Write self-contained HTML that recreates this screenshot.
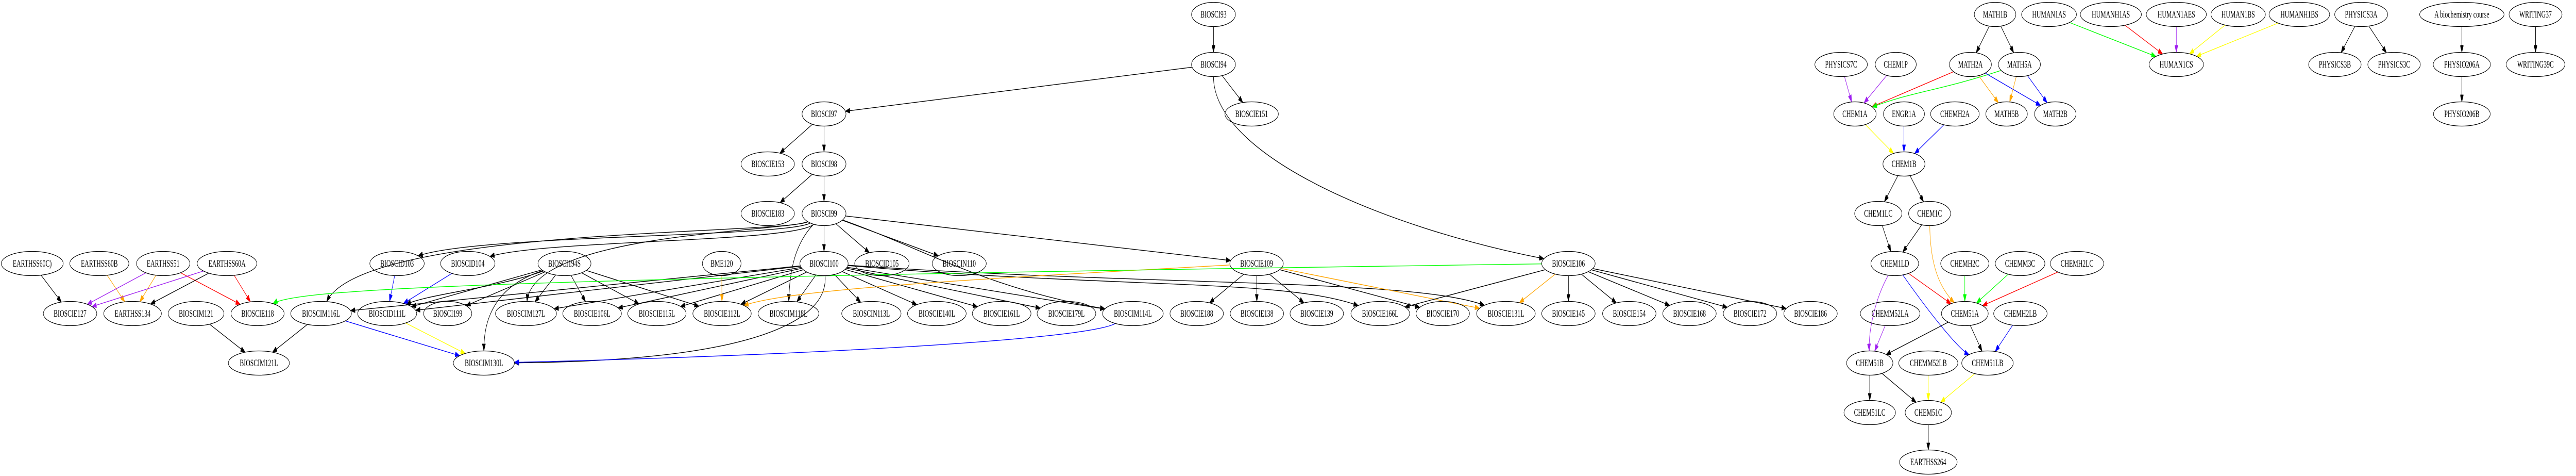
<!DOCTYPE html>
<html><head><meta charset="utf-8">
<style>
html,body{margin:0;padding:0;background:#fff;overflow:hidden}
svg{display:block;position:absolute;left:0;top:0;width:100vw;height:100vh}
text{font-family:"Liberation Serif",serif;font-size:18.5px;fill:#000}
</style></head>
<body>
<svg id="g" viewBox="0 0 7831 923" preserveAspectRatio="none" xmlns="http://www.w3.org/2000/svg">
<defs></defs>
<g id="edges"></g>
<g id="nodes"></g>
</svg>
<script>
var R=[28,125,221,318,414,511,608,704,800,896];
var N={};
var rows={
0:[["BIOSCI93",3689],["MATH1B",6065],["HUMAN1AS",6229],["HUMANH1AS",6417],["HUMAN1AES",6616],["HUMAN1BS",6804],["HUMANH1BS",6990],["PHYSICS3A",7178],["A biochemistry course",7484],["WRITING37",7708]],
1:[["BIOSCI94",3689],["PHYSICS7C",5597],["CHEM1P",5763],["MATH2A",5990],["MATH5A",6139],["HUMAN1CS",6616],["PHYSICS3B",7098],["PHYSICS3C",7278],["PHYSIO206A",7484],["WRITING39C",7708]],
2:[["BIOSCI97",2505],["BIOSCIE151",3805],["CHEM1A",5639],["ENGR1A",5788],["CHEMH2A",5943],["MATH5B",6100],["MATH2B",6248],["PHYSIO206B",7484]],
3:[["BIOSCIE153",2334],["BIOSCI98",2505],["CHEM1B",5788]],
4:[["BIOSCIE183",2334],["BIOSCI99",2505],["CHEM1LC",5710],["CHEM1C",5866]],
5:[["EARTHSS60C)",98],["EARTHSS60B",302],["EARTHSS51",496],["EARTHSS60A",690],["BIOSCID103",1207],["BIOSCID104",1422],["BIOSCI194S",1716],["BME120",2194],["BIOSCI100",2505],["BIOSCID105",2681],["BIOSCIN110",2916],["BIOSCIE109",3820],["BIOSCIE106",4768],["CHEM1LD",5760],["CHEMH2C",5973],["CHEMM3C",6141],["CHEMH2LC",6314]],
6:[["BIOSCIE127",213],["EARTHSS134",403],["BIOSCIM121",596],["BIOSCIE118",783],["BIOSCIM116L",976],["BIOSCID111L",1177],["BIOSCI199",1361],["BIOSCIM127L",1599],["BIOSCIE106L",1800],["BIOSCIE115L",1997],["BIOSCIE112L",2195],["BIOSCIM118L",2397],["BIOSCIN113L",2649],["BIOSCIE140L",2848],["BIOSCIE161L",3045],["BIOSCIE179L",3242],["BIOSCIM114L",3444],["BIOSCIE188",3638],["BIOSCIE138",3821],["BIOSCIE139",4003],["BIOSCIE166L",4196],["BIOSCIE170",4386],["BIOSCIE131L",4578],["BIOSCIE145",4768],["BIOSCIE154",4953],["BIOSCIE168",5136],["BIOSCIE172",5320],["BIOSCIE186",5504],["CHEMM52LA",5746],["CHEM51A",5973],["CHEMH2LB",6142]],
7:[["BIOSCIM121L",787],["BIOSCIM130L",1471],["CHEM51B",5684],["CHEMM52LB",5862],["CHEM51LB",6042]],
8:[["CHEM51LC",5684],["CHEM51C",5862]],
9:[["EARTHSS264",5862]]
};
var SVGNS="http://www.w3.org/2000/svg";
var svg=document.getElementById("g"),ng=document.getElementById("nodes"),eg=document.getElementById("edges"),defs=svg.querySelector("defs");
function el(t,a,p){var e=document.createElementNS(SVGNS,t);for(var k in a)e.setAttribute(k,a[k]);(p||svg).appendChild(e);return e;}
for(var r in rows){rows[r].forEach(function(n){
  var y=R[r],x=n[1];
  var t=el("text",{x:x,y:y+6,"text-anchor":"middle"},ng);t.textContent=n[0];
  var w=0;try{w=t.getComputedTextLength();}catch(e){}
  if(!w)w=n[0].length*11;
  var rx=Math.max(48,(w*1.41+22)/2),ry=23.5;
  el("ellipse",{cx:x,cy:y,rx:rx,ry:ry,fill:"none",stroke:"#000","stroke-width":1.3},ng);
  N[n[0]]={x:x,y:y,rx:rx,ry:ry};
});}
var cols={k:"#000",r:"#ff0000",g:"#00ff00",b:"#0000ff",y:"#ffff00",o:"#ffa500",p:"#a020f0"};
for(var c in cols){var m=el("marker",{id:"m"+c,markerWidth:14,markerHeight:10,refX:14,refY:5,orient:"auto",markerUnits:"userSpaceOnUse"},defs);
 el("path",{d:"M0,0 L14,5 L0,10 z",fill:cols[c],stroke:cols[c]},m);}
function clip(n,dx,dy){var l=Math.sqrt((dx*dx)/(n.rx*n.rx)+(dy*dy)/(n.ry*n.ry));return [n.x+dx/l,n.y+dy/l];}
function E(a,b,c,cp){
  var A=N[a],B=N[b];c=c||"k";if(!A||!B)return;
  var d,p0,p3;
  if(cp){
    p0=clip(A,cp[0]-A.x,cp[1]-A.y);
    var last=cp.length>=4?[cp[cp.length-2],cp[cp.length-1]]:[cp[0],cp[1]];
    p3=clip(B,last[0]-B.x,last[1]-B.y);
    if(cp.length>=4) d="M"+p0+" C"+cp[0]+","+cp[1]+" "+cp[2]+","+cp[3]+" "+p3;
    else d="M"+p0+" Q"+cp[0]+","+cp[1]+" "+p3;
  } else {
    p0=clip(A,B.x-A.x,B.y-A.y);p3=clip(B,A.x-B.x,A.y-B.y);
    d="M"+p0+" L"+p3;
  }
  el("path",{d:d,fill:"none",stroke:cols[c],"stroke-width":1.4,"marker-end":"url(#m"+c+")"},eg);
}
E("BIOSCI93","BIOSCI94");E("BIOSCI94","BIOSCI97");E("BIOSCI94","BIOSCIE151");
E("BIOSCI94","BIOSCIE106","k",[3689,300,4200,440]);
E("BIOSCI97","BIOSCIE153");E("BIOSCI97","BIOSCI98");
E("BIOSCI98","BIOSCIE183");E("BIOSCI98","BIOSCI99");
E("BIOSCI99","BIOSCI100");E("BIOSCI99","BIOSCID105");E("BIOSCI99","BIOSCIN110");E("BIOSCI99","BIOSCIE109");
E("BIOSCI99","BIOSCIM118L","k",[2420,470,2400,520]);
E("BIOSCI99","BIOSCIM114L","k",[2800,480,3000,560]);
E("BIOSCI99","BIOSCIM116L","k",[2380,455,1100,440]);
E("BIOSCI99","BIOSCID103","k",[2400,460,1450,455]);
E("BIOSCI99","BIOSCID104","k",[2420,470,1650,465]);
E("BIOSCI99","BIOSCIM127L","k",[2390,450,1620,450]);
["BIOSCIM116L","BIOSCID111L","BIOSCIM127L","BIOSCIE106L","BIOSCIE115L","BIOSCIE112L","BIOSCIM118L","BIOSCIN113L","BIOSCIE140L","BIOSCIE161L","BIOSCIE179L","BIOSCIM114L"].forEach(function(t){E("BIOSCI100",t);});
E("BIOSCI100","BIOSCIE166L","k",[3400,560,3900,540]);
E("BIOSCI100","BIOSCIE131L","k",[3500,555,4300,540]);
E("BIOSCI100","BIOSCIM130L","k",[2520,620,2300,700]);
["BIOSCID111L","BIOSCI199","BIOSCIM127L","BIOSCIE106L","BIOSCIE115L","BIOSCIE112L"].forEach(function(t){E("BIOSCI194S",t);});
E("BIOSCI194S","BIOSCID111L","k",[1500,560,1300,570]);
E("BIOSCI194S","BIOSCIM130L","k",[1480,560,1471,640]);
E("BME120","BIOSCIE112L","o");
E("BIOSCID103","BIOSCID111L","b");E("BIOSCID104","BIOSCID111L","b");
E("BIOSCID111L","BIOSCIM130L","y");E("BIOSCIM116L","BIOSCIM130L","b");
E("BIOSCIM114L","BIOSCIM130L","b",[3300,660,2400,690]);
E("BIOSCIM116L","BIOSCIM121L");E("BIOSCIM121","BIOSCIM121L");
E("EARTHSS60C)","BIOSCIE127");E("EARTHSS60B","EARTHSS134","o");
E("EARTHSS51","BIOSCIE127","p");E("EARTHSS51","EARTHSS134","o");E("EARTHSS51","BIOSCIE118","r");
E("EARTHSS60A","BIOSCIE127","p");E("EARTHSS60A","EARTHSS134");E("EARTHSS60A","BIOSCIE118","r");
E("BIOSCIE109","BIOSCIE188");E("BIOSCIE109","BIOSCIE138");E("BIOSCIE109","BIOSCIE139");
E("BIOSCIE109","BIOSCIE112L","o",[3000,540,2400,560]);
E("BIOSCIE109","BIOSCIE131L","o");E("BIOSCIE109","BIOSCIE170");
E("BIOSCIE106","BIOSCIE118","g",[1500,540,900,560]);
["BIOSCIE166L","BIOSCIE131L","BIOSCIE145","BIOSCIE154","BIOSCIE168","BIOSCIE172","BIOSCIE186"].forEach(function(t){E("BIOSCIE106",t,t=="BIOSCIE131L"?"o":"k");});
E("PHYSICS7C","CHEM1A","p");E("CHEM1P","CHEM1A","p");E("MATH2A","CHEM1A","r");
E("MATH5A","CHEM1A","g",[5900,175,5800,180]);
E("CHEM1A","CHEM1B","y");E("ENGR1A","CHEM1B","b");E("CHEMH2A","CHEM1B","b");
E("CHEM1B","CHEM1LC");E("CHEM1B","CHEM1C");E("CHEM1LC","CHEM1LD");E("CHEM1C","CHEM1LD");
E("CHEM1C","CHEM51A","o",[5868,520,5900,560]);
E("CHEM1LD","CHEM51A","r");E("CHEM1LD","CHEM51B","p",[5700,580,5680,640]);
E("CHEM1LD","CHEM51LB","b",[5880,620,5960,680]);
E("CHEMH2C","CHEM51A","g");E("CHEMM3C","CHEM51A","g");E("CHEMH2LC","CHEM51A","r");
E("CHEM51A","CHEM51B");E("CHEM51A","CHEM51LB");E("CHEMH2LB","CHEM51LB","b");E("CHEMM52LA","CHEM51B","p");
E("CHEM51B","CHEM51LC");E("CHEM51B","CHEM51C");E("CHEMM52LB","CHEM51C","y");E("CHEM51LB","CHEM51C","y");
E("CHEM51C","EARTHSS264");
E("MATH1B","MATH2A");E("MATH1B","MATH5A");
E("MATH2A","MATH5B","o");E("MATH2A","MATH2B","b");E("MATH5A","MATH5B","o");E("MATH5A","MATH2B","b");
E("HUMAN1AS","HUMAN1CS","g");E("HUMANH1AS","HUMAN1CS","r");E("HUMAN1AES","HUMAN1CS","p");E("HUMAN1BS","HUMAN1CS","y");E("HUMANH1BS","HUMAN1CS","y");
E("PHYSICS3A","PHYSICS3B");E("PHYSICS3A","PHYSICS3C");
E("A biochemistry course","PHYSIO206A");E("PHYSIO206A","PHYSIO206B");
E("WRITING37","WRITING39C");
</script>
</body></html>
